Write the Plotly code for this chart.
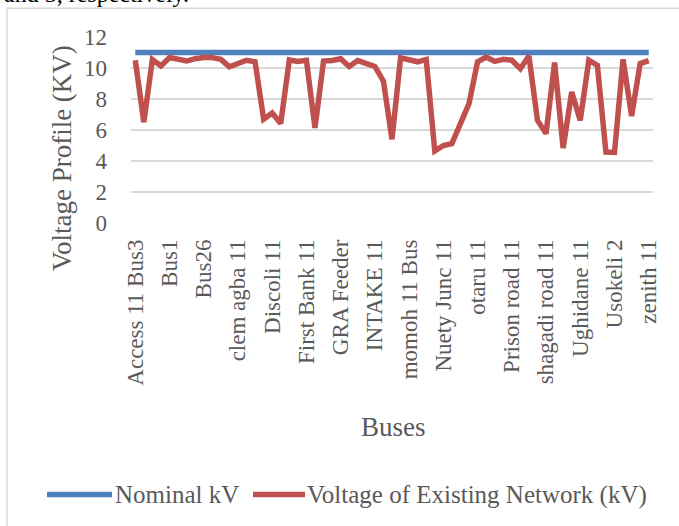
import plotly.graph_objects as go

# ---- data ----
tick_labels = ["Access 11 Bus3", "Bus1", "Bus26", "clem agba 11", "Discoli 11",
               "First Bank 11", "GRA Feeder", "INTAKE 11", "momoh 11 Bus",
               "Nuety Junc 11", "otaru 11", "Prison road 11", "shagadi road 11",
               "Ughidane 11", "Usokeli 2", "zenith 11"]
bus_index = list(range(61))
tick_positions = list(range(0, 61, 4))
nominal_kv = [11] * 61
existing_kv = [10.5, 6.5, 10.55, 10.13, 10.68, 10.6, 10.45, 10.6, 10.68, 10.67,
               10.56, 10.07, 10.28, 10.5, 10.4, 6.7, 7.1, 6.42, 10.52, 10.42,
               10.5, 6.14, 10.45, 10.48, 10.6, 10.1, 10.48, 10.28, 10.1, 9.15,
               5.4, 10.65, 10.55, 10.4, 10.55, 4.64, 5.0, 5.12, 6.41, 7.7,
               10.4, 10.7, 10.43, 10.56, 10.5, 9.95, 10.78, 6.62, 5.77, 10.35,
               4.84, 8.45, 6.62, 10.5, 10.17, 4.58, 4.55, 10.56, 6.9, 10.28,
               10.47]

W, H = 679, 526
L, R, T, B = 131, 653, 36.7, 223
pw, ph = R - L, B - T

def px(x):
    return (x - L) / pw

def py(y):
    return (B - y) / ph

FONT = "Liberation Serif"
GREY = "#595959"
BLUE = "#4F81BD"
RED = "#C0504D"

fig = go.Figure()
fig.add_trace(go.Scatter(x=bus_index, y=nominal_kv, mode="lines", name="Nominal kV",
                         line=dict(color=BLUE, width=5.5), showlegend=False))
fig.add_trace(go.Scatter(x=bus_index, y=existing_kv, mode="lines",
                         name="Voltage of Existing Network (kV)",
                         line=dict(color=RED, width=5.5), showlegend=False))

fig.update_layout(
    width=W, height=H,
    margin=dict(l=L, r=W - R, t=T, b=H - B, autoexpand=False),
    paper_bgcolor="white", plot_bgcolor="white",
    font=dict(family=FONT, color=GREY, size=23),
    xaxis=dict(range=[-0.5, 60.5], tickmode="array", tickvals=tick_positions,
               ticktext=tick_labels, tickangle=-90, showgrid=False, zeroline=False,
               ticks="", ticklabelstandoff=11, tickfont=dict(size=23, color=GREY)),
    yaxis=dict(range=[0, 12], dtick=2, showgrid=True, gridcolor="#D9D9D9",
               gridwidth=1.5, zeroline=False, ticks="", ticklabelstandoff=23,
               tickfont=dict(size=23, color=GREY)),
)

annotations = [
    dict(text="Voltage Profile (KV)", x=px(62), y=py(158), xref="paper", yref="paper",
         textangle=-90, showarrow=False, font=dict(size=27, color=GREY, family=FONT),
         xanchor="center", yanchor="middle"),
    dict(text="Buses", x=px(393), y=py(427), xref="paper", yref="paper",
         showarrow=False, font=dict(size=27, color=GREY, family=FONT),
         xanchor="center", yanchor="middle"),
    dict(text="Nominal kV", x=px(113), y=py(495), xref="paper", yref="paper",
         showarrow=False, font=dict(size=25, color=GREY, family=FONT),
         xanchor="left", yanchor="middle"),
    dict(text="Voltage of Existing Network (kV)", x=px(305), y=py(495), xref="paper",
         yref="paper", showarrow=False, font=dict(size=25, color=GREY, family=FONT),
         xanchor="left", yanchor="middle"),
    dict(text="and 3, respectively.", x=px(2), y=py(9), xref="paper", yref="paper",
         showarrow=False, font=dict(size=24, color="black", family=FONT),
         xanchor="left", yanchor="bottom"),
]
fig.update_layout(annotations=annotations)

shapes = [
    dict(type="rect", xref="paper", yref="paper", x0=px(7), x1=px(720), y0=py(8),
         y1=py(560), line=dict(color="#D9D9D9", width=1.5), layer="below"),
    dict(type="line", xref="paper", yref="paper", x0=px(47), x1=px(112), y0=py(495),
         y1=py(495), line=dict(color=BLUE, width=5.5)),
    dict(type="line", xref="paper", yref="paper", x0=px(253), x1=px(305), y0=py(495),
         y1=py(495), line=dict(color=RED, width=5.5)),
]
fig.update_layout(shapes=shapes)

fig.write_html("out.html", config={"displayModeBar": False},
               post_script="document.body.style.margin='0';document.body.style.overflow='hidden';")
